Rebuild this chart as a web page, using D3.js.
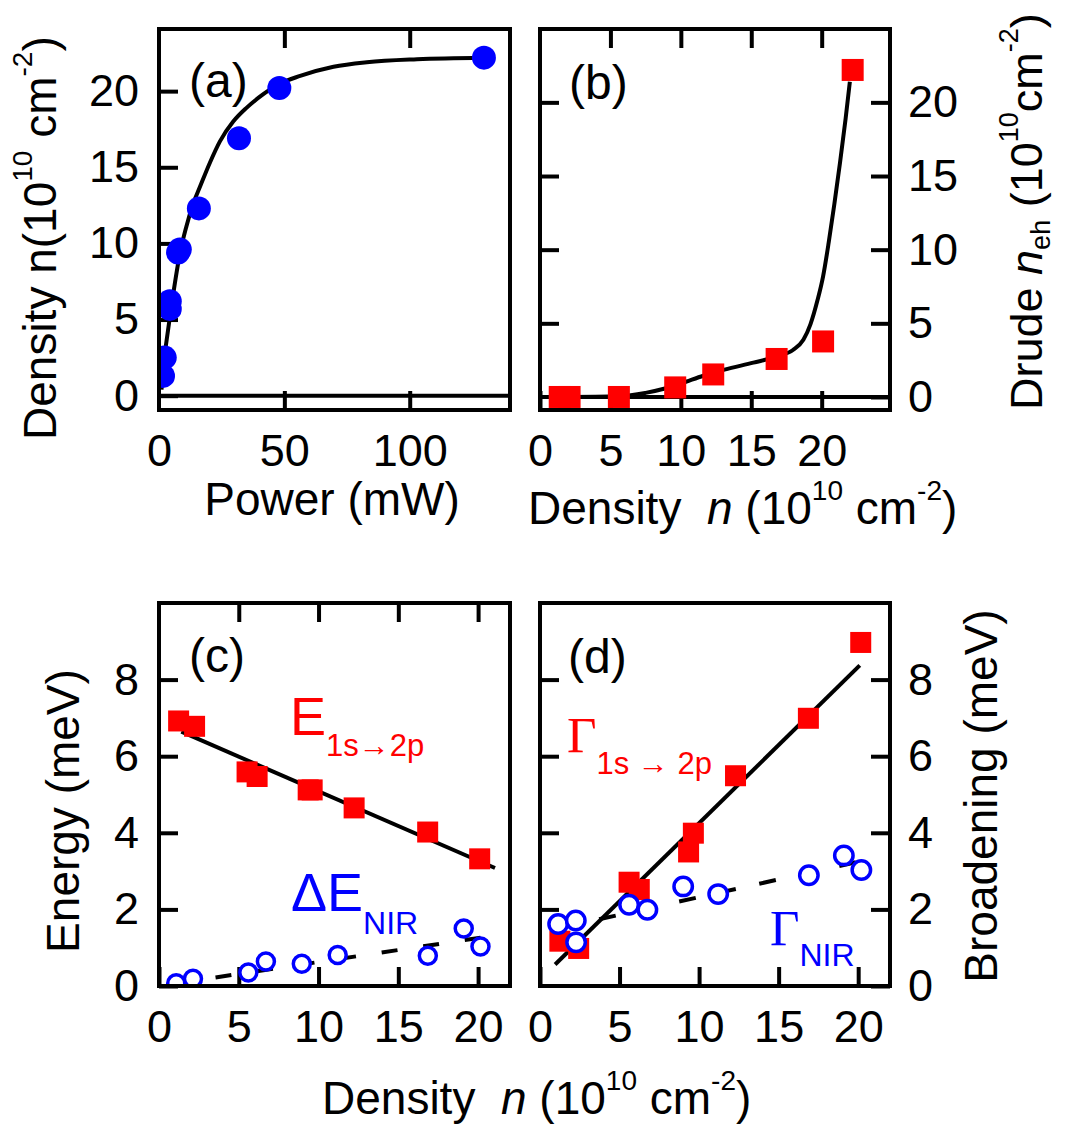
<!DOCTYPE html>
<html>
<head>
<meta charset="utf-8">
<script src="https://cdn.jsdelivr.net/npm/d3@7"></script>
<style>
body { margin: 0; background: #fff; }
text { font-family: "Liberation Sans", Arial, sans-serif; white-space: pre; }
</style>
</head>
<body>
<svg id="fig" width="1066" height="1134"></svg>
<script>
// fig.js

// (a) density vs power
var powerMW = [1.6, 2.3, 4.3, 4.3, 7.6, 8.3, 15.9, 31.9, 48.0, 129.6];
var densityA = [1.3, 2.5, 5.7, 6.2, 9.4, 9.6, 12.3, 16.9, 20.2, 22.2];
var powerFit = [1.0, 1.9, 3.6, 5.6, 8.3, 10.9, 13.6, 16.3, 20.3, 24.3, 29.6, 34.9, 41.6, 48.3, 56.3, 69.6, 82.9, 102.9, 129.6];
var densityFit = [0.4, 2.1, 4.3, 6.6, 9.3, 11.1, 12.6, 13.7, 15.3, 16.7, 18.0, 18.9, 19.8, 20.5, 21.0, 21.6, 21.9, 22.1, 22.2];

// (b) Drude density vs density
var densityB = [1.4, 2.1, 5.6, 9.6, 12.3, 16.8, 20.1, 22.2];
var drudeB = [0.0, 0.0, 0.0, 0.65, 1.53, 2.58, 3.77, 22.2];
var drudeFitX = [1.4, 5.7, 7.5, 8.8, 10.05, 11.6, 13.1, 15.15, 16.9, 17.96, 18.7, 19.2, 19.7, 20.1, 20.5, 20.9, 21.3, 21.7, 22.0];
var drudeFitY = [0.0, 0.05, 0.28, 0.56, 0.93, 1.44, 1.86, 2.33, 2.77, 3.19, 3.88, 4.93, 6.56, 8.19, 10.5, 13.1, 15.9, 18.9, 21.4];

// (c) energies
var densityC = [1.23, 2.23, 5.52, 6.15, 9.35, 9.6, 12.23, 16.84, 20.1];
var energy1s2p = [6.92, 6.78, 5.59, 5.47, 5.12, 5.12, 4.65, 4.02, 3.32];
var densityCNir = [1.08, 2.13, 5.6, 6.7, 8.95, 11.2, 16.85, 19.1, 20.15];
var deltaENir = [0.07, 0.19, 0.35, 0.64, 0.58, 0.81, 0.79, 1.5, 1.03];
var energyFitX = [1.4, 21.06], energyFitY = [6.64, 3.08];
var nirFitX = [0.94, 20.6], nirFitY = [0.06, 1.29];

// (d) broadening
var densityD = [1.25, 2.43, 5.6, 6.24, 9.34, 9.64, 12.29, 16.87, 20.16];
var gamma1s2p = [1.17, 0.98, 2.71, 2.52, 3.5, 3.99, 5.49, 6.99, 8.97];
var densityDNir = [1.14, 2.25, 2.27, 5.6, 6.75, 9.0, 11.2, 16.9, 19.1, 20.2];
var gammaNir = [1.62, 1.71, 1.14, 2.12, 1.99, 2.6, 2.4, 2.89, 3.41, 3.03];
var gammaFitX = [0.95, 20.1], gammaFitY = [0.56, 8.37];
var gammaNirFitX = [1.2, 20.4], gammaNirFitY = [1.51, 3.28];

// ticks
var aXTicks = [0, 50, 100], aXMarks = [50, 100];
var aYTicks = [0, 5, 10, 15, 20];
var bXTicks = [0, 5, 10, 15, 20], bYTicks = [0, 5, 10, 15, 20];
var cdXTicks = [0, 5, 10, 15, 20], cdYTicks = [0, 2, 4, 6, 8];

const tickLen = 19,
    lineW = 4,
    blue = "#0000ff",
    red = "#ff0000";

var svg = d3.select("#fig");

function makePanel(o) {
    var g = svg.append("g").attr("transform", "translate(" + o.left + "," + o.top + ")");
    var w = o.right - o.left, h = o.bottom - o.top;
    var x = d3.scaleLinear().domain(o.xDomain).range([0, w]);
    var y = d3.scaleLinear().domain(o.yDomain).range([h, 0]);
    g.append("clipPath").attr("id", "clip-" + o.name)
        .append("rect").attr("width", w).attr("height", h);
    var axes = g.append("g");
    var plot = g.append("g").attr("clip-path", "url(#clip-" + o.name + ")");
    return {g: g, axes: axes, plot: plot, x: x, y: y, w: w, h: h};
}

// side: left/right/top/bottom, labels on or off
function addAxis(p, side, ticks, labels, pad) {
    var ax;
    var tr = "";
    if (side === "left") ax = d3.axisLeft(p.y);
    if (side === "right") { ax = d3.axisRight(p.y); tr = "translate(" + p.w + ",0)"; }
    if (side === "top") ax = d3.axisTop(p.x);
    if (side === "bottom") { ax = d3.axisBottom(p.x); tr = "translate(0," + p.h + ")"; }
    ax.tickValues(ticks).tickSizeInner(-tickLen).tickSizeOuter(0).tickPadding(pad || 0);
    if (!labels) ax.tickFormat("");
    var a = p.axes.append("g").attr("transform", tr).call(ax);
    a.select(".domain").remove();
    a.attr("font-family", null).attr("font-size", 45);
    a.selectAll(".tick line").attr("stroke", "#000").attr("stroke-width", lineW);
    a.selectAll(".tick text").attr("fill", "#000");
    return a;
}

function frame(p) {
    p.g.append("rect").attr("width", p.w).attr("height", p.h)
        .attr("fill", "none").attr("stroke", "#000").attr("stroke-width", lineW);
}

function zeroLine(p) {
    p.axes.append("line").attr("x1", 0).attr("x2", p.w)
        .attr("y1", p.y(0)).attr("y2", p.y(0))
        .attr("stroke", "#000").attr("stroke-width", lineW);
}

function fitLine(p, xs, ys, curve, dash) {
    var line = d3.line()
        .x(function(d) {return p.x(d[0]);})
        .y(function(d) {return p.y(d[1]);})
        .curve(curve || d3.curveLinear);
    p.plot.append("path")
        .datum(xs.map(function(v, i) {return [v, ys[i]];}))
        .attr("d", line)
        .attr("fill", "none").attr("stroke", "#000").attr("stroke-width", lineW)
        .attr("stroke-dasharray", dash || null);
}

function squares(p, xs, ys, size) {
    p.plot.append("g").selectAll("rect")
        .data(xs.map(function(v, i) {return [v, ys[i]];}))
        .enter().append("rect")
        .attr("x", function(d) {return p.x(d[0]) - size / 2;})
        .attr("y", function(d) {return p.y(d[1]) - size / 2;})
        .attr("width", size).attr("height", size)
        .attr("fill", red);
}

function circles(p, xs, ys, r, open) {
    p.plot.append("g").selectAll("circle")
        .data(xs.map(function(v, i) {return [v, ys[i]];}))
        .enter().append("circle")
        .attr("cx", function(d) {return p.x(d[0]);})
        .attr("cy", function(d) {return p.y(d[1]);})
        .attr("r", r)
        .attr("fill", open ? "#fff" : blue)
        .attr("stroke", open ? blue : "none")
        .attr("stroke-width", open ? 3.5 : 0);
}

// text made of pieces with sub/superscripts
function richText(tr, parts, anchor, fill) {
    var t = svg.append("text").attr("transform", tr)
        .attr("text-anchor", anchor || "start").attr("fill", fill || "#000");
    var prev = 0;
    parts.forEach(function(q) {
        var s = q.shift || 0;
        var sp = t.append("tspan").text(q.t).attr("font-size", q.size).attr("dy", s - prev);
        if (q.italic) sp.attr("font-style", "italic");
        if (q.serif) sp.attr("font-family", "'Liberation Serif', 'Times New Roman', serif");
        prev = s;
    });
    return t;
}

// ---------- (a)
var pa = makePanel({name: "a", left: 159, right: 510, top: 29, bottom: 410,
    xDomain: [0, 140], yDomain: [-0.94, 24.08]});
zeroLine(pa);
addAxis(pa, "left", aYTicks, true, 20);
addAxis(pa, "top", aXMarks, false);
addAxis(pa, "bottom", aXMarks, false);
pa.axes.append("g").attr("transform", "translate(0," + pa.h + ")")
    .call(d3.axisBottom(pa.x).tickValues(aXTicks).tickSize(0).tickPadding(24))
    .call(function(a) {
        a.select(".domain").remove();
        a.attr("font-family", null).attr("font-size", 45);
        a.selectAll("text").attr("fill", "#000");
    });
fitLine(pa, powerFit, densityFit, d3.curveMonotoneX);
circles(pa, powerMW, densityA, 12, false);
frame(pa);

// ---------- (b)
var pb = makePanel({name: "b", left: 540, right: 890, top: 29, bottom: 410,
    xDomain: [0, 24.85], yDomain: [-0.884, 24.98]});
zeroLine(pb);
addAxis(pb, "left", bYTicks.slice(1), false);
addAxis(pb, "right", bYTicks, true, 18);
addAxis(pb, "top", bXTicks.slice(1), false);
addAxis(pb, "bottom", bXTicks, true, 24);
fitLine(pb, drudeFitX, drudeFitY, d3.curveMonotoneX);
squares(pb, densityB, drudeB, 22);
frame(pb);

// ---------- (c)
var pc = makePanel({name: "c", left: 159, right: 510, top: 603, bottom: 986,
    xDomain: [0, 22], yDomain: [0, 10]});
addAxis(pc, "left", cdYTicks, true, 20);
addAxis(pc, "top", cdXTicks.slice(1), false);
addAxis(pc, "bottom", cdXTicks, true, 24);
fitLine(pc, energyFitX, energyFitY);
fitLine(pc, nirFitX, nirFitY, null, "16,26");
squares(pc, densityC, energy1s2p, 21);
circles(pc, densityCNir, deltaENir, 8.5, true);
frame(pc);

// ---------- (d)
var pd = makePanel({name: "d", left: 540, right: 890, top: 603, bottom: 986,
    xDomain: [0, 22], yDomain: [0, 10]});
addAxis(pd, "left", cdYTicks.slice(1), false);
addAxis(pd, "right", cdYTicks, true, 18);
addAxis(pd, "bottom", cdXTicks, true, 24);
fitLine(pd, gammaFitX, gammaFitY);
fitLine(pd, gammaNirFitX, gammaNirFitY, null, "17,24");
squares(pd, densityD, gamma1s2p, 21);
circles(pd, densityDNir, gammaNir, 9.2, true);
frame(pd);

// ---------- panel letters
[["(a)", 189, 97], ["(b)", 569, 99], ["(c)", 189, 672], ["(d)", 568, 673]].forEach(function(l) {
    svg.append("text").attr("x", l[1]).attr("y", l[2]).attr("font-size", 48).text(l[0]);
});

// ---------- axis titles
richText("translate(56,440) rotate(-90)", [
    {t: "Density n(10", size: 46}, {t: "10", size: 28, shift: -24},
    {t: " cm", size: 46}, {t: "-2", size: 28, shift: -24}, {t: ")", size: 46}]);
svg.append("text").attr("x", 332).attr("y", 515).attr("text-anchor", "middle")
    .attr("font-size", 46).text("Power (mW)");
richText("translate(528,524)", [
    {t: "Density  ", size: 46}, {t: "n", size: 46, italic: true}, {t: " (10", size: 46},
    {t: "10", size: 28, shift: -24}, {t: " cm", size: 46}, {t: "-2", size: 28, shift: -24},
    {t: ")", size: 46}]);
richText("translate(1042,410) rotate(-90)", [
    {t: "Drude ", size: 45}, {t: "n", size: 45, italic: true}, {t: "eh", size: 27, shift: 7.5},
    {t: " (10", size: 45}, {t: "10", size: 27, shift: -24}, {t: "cm", size: 45},
    {t: "-2", size: 27, shift: -24}, {t: ")", size: 45}]);
svg.append("text").attr("transform", "translate(79,811) rotate(-90)").attr("text-anchor", "middle")
    .attr("font-size", 46).text("Energy (meV)");
svg.append("text").attr("transform", "translate(997,796) rotate(-90)").attr("text-anchor", "middle")
    .attr("font-size", 46).text("Broadening (meV)");
richText("translate(322,1114)", [
    {t: "Density  ", size: 46}, {t: "n", size: 46, italic: true}, {t: " (10", size: 46},
    {t: "10", size: 28, shift: -24}, {t: " cm", size: 46}, {t: "-2", size: 28, shift: -24},
    {t: ")", size: 46}]);

// ---------- series labels
richText("translate(290,735)", [{t: "E", size: 54}, {t: "1s\u21922p", size: 31, shift: 21}], "start", red);
richText("translate(291,911)", [{t: "\u0394E", size: 54}, {t: "NIR", size: 32, shift: 23}], "start", blue);
richText("translate(567,752)", [{t: "\u0393", size: 51, serif: true}, {t: "1s \u2192 2p", size: 31, shift: 22}], "start", red);
richText("translate(770,945)", [{t: "\u0393", size: 51, serif: true}, {t: "NIR", size: 32, shift: 21}], "start", blue);
</script>
</body>
</html>
